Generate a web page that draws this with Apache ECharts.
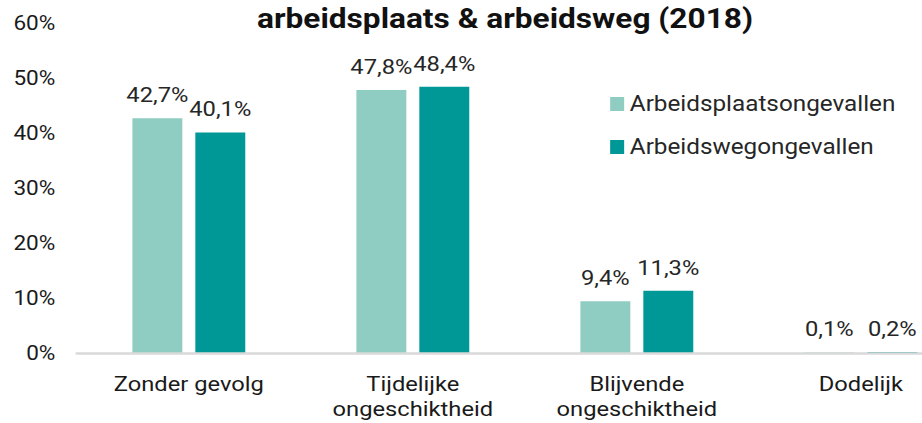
<!DOCTYPE html>
<html><head><meta charset="utf-8">
<script src="https://cdn.jsdelivr.net/npm/echarts@6/dist/echarts.min.js"></script>
<style>html,body{margin:0;padding:0;background:#fff;overflow:hidden}
#wrap{width:922px;height:423px;overflow:hidden}
#c{width:816px;height:423px;transform:scaleX(1.12990);transform-origin:0 0}</style>
</head><body><div id="wrap"><div id="c"></div></div>
<script>
const categories = ['Zonder gevolg', 'Tijdelijke\nongeschiktheid', 'Blijvende\nongeschiktheid', 'Dodelijk'];
const seriesNames = ['Arbeidsplaatsongevallen', 'Arbeidswegongevallen'];
const arbeidsplaats = [42.7, 47.8, 9.4, 0.1];
const arbeidsweg = [40.1, 48.4, 11.3, 0.2];
const yTicks = [0, 10, 20, 30, 40, 50, 60];
const titleText = 'arbeidsplaats & arbeidsweg (2018)';

const FONT = 'Roboto';
const fmt = v => v.toFixed(1).replace('.', ',') + '%';
const chart = echarts.init(document.getElementById('c'), null, { renderer: 'svg' });
const labelStyle = { show: true, position: 'top', distance: 13, fontFamily: FONT, fontSize: 21, color: '#262626', formatter: p => fmt(p.value) };
chart.setOption({
  animation: false,
  textStyle: { fontFamily: FONT },
  title: {
    text: titleText, left: 442, top: -1, textAlign: 'center',
    textStyle: { fontFamily: FONT, fontSize: 28, fontWeight: 'bold', color: '#111' }
  },
  legend: {
    orient: 'vertical', left: 535, top: 88, itemGap: 21,
    itemWidth: 12.4, itemHeight: 14, icon: 'rect',
    textStyle: { fontFamily: FONT, fontSize: 21.5, color: '#262626' },
    data: seriesNames
  },
  grid: { left: 68, width: 793, top: 23, bottom: 70, containLabel: false, outerBoundsMode: 'none' },
  xAxis: {
    type: 'category', data: categories, z: 3,
    axisLine: { lineStyle: { color: '#d9d9d9', width: 2.5 } },
    axisTick: { show: false },
    axisLabel: { fontFamily: FONT, fontSize: 21, color: '#1a1a1a', margin: 18, lineHeight: 25 }
  },
  yAxis: {
    type: 'value', min: yTicks[0], max: yTicks[yTicks.length - 1], interval: 10,
    splitLine: { show: false }, axisLine: { show: false }, axisTick: { show: false },
    axisLabel: { fontFamily: FONT, fontSize: 20, color: '#1a1a1a', margin: 19, formatter: v => v + '%' }
  },
  series: [
    { name: seriesNames[0], type: 'bar', data: arbeidsplaats, barWidth: 44.2, barGap: '26%',
      itemStyle: { color: '#8fcdc2' }, label: labelStyle },
    { name: seriesNames[1], type: 'bar', data: arbeidsweg, barWidth: 44.2,
      itemStyle: { color: '#009896' }, label: labelStyle }
  ]
});
</script></body></html>
